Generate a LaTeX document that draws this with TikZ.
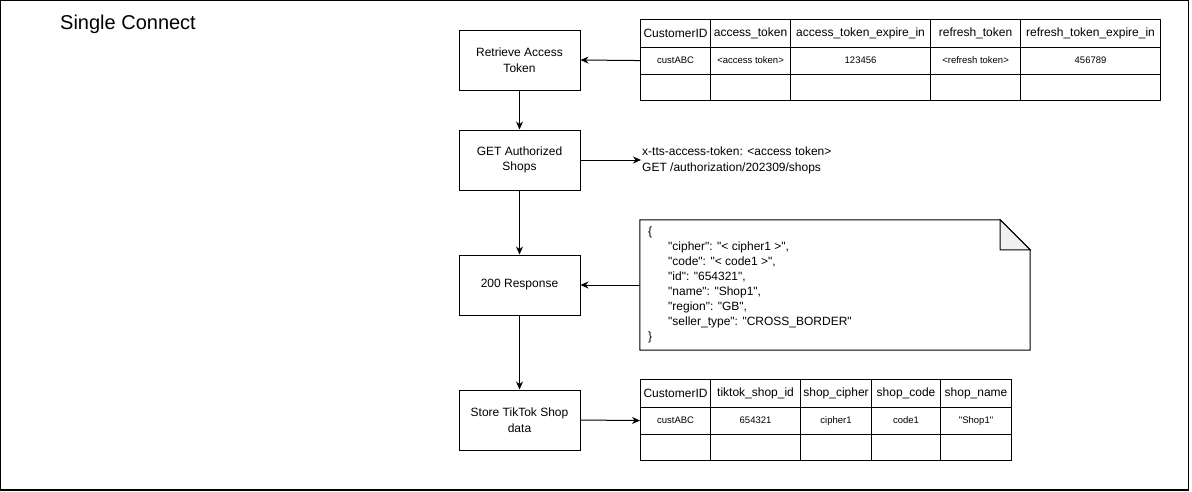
\documentclass[tikz,border=0pt]{standalone}
\usepackage{fontspec}
\setmainfont{Liberation Sans}
\newfontfamily\plainsans{Liberation Sans}
\usetikzlibrary{arrows.meta}
\newcommand{\myfs}[2]{\fontsize{#1}{#2}\selectfont}
\begin{document}
\plainsans
\begin{tikzpicture}[x=1pt,y=-1pt,
  box/.style={draw, line width=1pt, minimum width=121pt, minimum height=60pt, align=center, inner sep=2pt, font=\plainsans\myfs{12}{15.5}},
  cell/.style={draw, line width=1.1pt, anchor=north west, inner sep=0pt, align=center},
  hd/.style={cell, font=\plainsans\myfs{12}{14}},
  dt/.style={cell, font=\plainsans\myfs{9.5}{11}},
  arr/.style={-{Stealth[length=8pt,width=7pt]}, line width=1pt}]
\useasboundingbox (0,0) rectangle (1192,491);
\draw[line width=1.3pt] (0.8,0.8) rectangle (1188.5,490);
\node[anchor=west, font=\plainsans\myfs{20}{24}, inner sep=0pt] (title) at (60,24) {Single Connect};

% flow boxes
\node[box] (ret) at (519.5,60) {Retrieve Access\\Token};
\node[box] (get) at (519.5,160) {GET Authorized\\Shops};
\node[box] (resp) at (519.5,285) {200 Response};
\node[box] (store) at (519.5,420) {Store TikTok Shop\\data};

% top table
\node[hd, minimum width=70, minimum height=27.5] (a11) at (640,19) {CustomerID};
\node[hd, minimum width=80, minimum height=27.5] (a12) at (710,19) {access\_token};
\node[hd, minimum width=140, minimum height=27.5] (a13) at (790,19) {access\_token\_expire\_in};
\node[hd, minimum width=90, minimum height=27.5] (a14) at (930,19) {refresh\_token};
\node[hd, minimum width=140, minimum height=27.5] (a15) at (1020,19) {refresh\_token\_expire\_in};
\node[dt, minimum width=70, minimum height=27] (a21) at (640,46.5) {custABC};
\node[dt, minimum width=80, minimum height=27] (a22) at (710,46.5) {<access token>};
\node[dt, minimum width=140, minimum height=27] (a23) at (790,46.5) {123456};
\node[dt, minimum width=90, minimum height=27] (a24) at (930,46.5) {<refresh token>};
\node[dt, minimum width=140, minimum height=27] (a25) at (1020,46.5) {456789};
\node[dt, minimum width=70, minimum height=26.5] (a31) at (640,73.5) {};
\node[dt, minimum width=80, minimum height=26.5] (a32) at (710,73.5) {};
\node[dt, minimum width=140, minimum height=26.5] (a33) at (790,73.5) {};
\node[dt, minimum width=90, minimum height=26.5] (a34) at (930,73.5) {};
\node[dt, minimum width=140, minimum height=26.5] (a35) at (1020,73.5) {};

% request text
\node[anchor=west, align=left, font=\plainsans\myfs{12}{16}, inner sep=1pt] (req) at (641,160) {x-tts-access-token: <access token>\\GET /authorization/202309/shops};

% note
\node[minimum width=390, minimum height=130, inner sep=0pt] (note) at (835,285) {};
\draw[line width=1pt, fill=white] (note.north west) -- ([xshift=-30pt]note.north east) -- ([yshift=-30pt]note.north east) -- (note.south east) -- (note.south west) -- cycle;
\draw[line width=1pt, fill=gray!12] ([xshift=-30pt]note.north east) -- ([xshift=-30pt,yshift=-30pt]note.north east) -- ([yshift=-30pt]note.north east) -- cycle;
\node[anchor=north west, align=left, font=\plainsans\myfs{12}{14.9}, inner sep=0pt] (json) at (648,227) {\{\\
\hspace*{20pt}"cipher": "< cipher1 >",\\
\hspace*{20pt}"code": "< code1 >",\\
\hspace*{20pt}"id": "654321",\\
\hspace*{20pt}"name": "Shop1",\\
\hspace*{20pt}"region": "GB",\\
\hspace*{20pt}"seller\_type": "CROSS\_BORDER"\\
\}};

% bottom table
\node[hd, minimum width=70, minimum height=27.5] (b11) at (640,379) {CustomerID};
\node[hd, minimum width=90, minimum height=27.5] (b12) at (710,379) {tiktok\_shop\_id};
\node[hd, minimum width=71, minimum height=27.5] (b13) at (800,379) {shop\_cipher};
\node[hd, minimum width=69, minimum height=27.5] (b14) at (871,379) {shop\_code};
\node[hd, minimum width=71, minimum height=27.5] (b15) at (940,379) {shop\_name};
\node[dt, minimum width=70, minimum height=27] (b21) at (640,406.5) {custABC};
\node[dt, minimum width=90, minimum height=27] (b22) at (710,406.5) {654321};
\node[dt, minimum width=71, minimum height=27] (b23) at (800,406.5) {cipher1};
\node[dt, minimum width=69, minimum height=27] (b24) at (871,406.5) {code1};
\node[dt, minimum width=71, minimum height=27] (b25) at (940,406.5) {"Shop1"};
\node[dt, minimum width=70, minimum height=26.5] (b31) at (640,433.5) {};
\node[dt, minimum width=90, minimum height=26.5] (b32) at (710,433.5) {};
\node[dt, minimum width=71, minimum height=26.5] (b33) at (800,433.5) {};
\node[dt, minimum width=69, minimum height=26.5] (b34) at (871,433.5) {};
\node[dt, minimum width=71, minimum height=26.5] (b35) at (940,433.5) {};

% connectors
\draw[arr] (a21.west) -- (ret.east);
\draw[arr] (ret.south) -- (get.north);
\draw[arr] (get.east) -- (req.west);
\draw[arr] (get.south) -- (resp.north);
\draw[arr] (note.west) -- (resp.east);
\draw[arr] (resp.south) -- (store.north);
\draw[arr] (store.east) -- (b21.west);
\end{tikzpicture}
\end{document}
